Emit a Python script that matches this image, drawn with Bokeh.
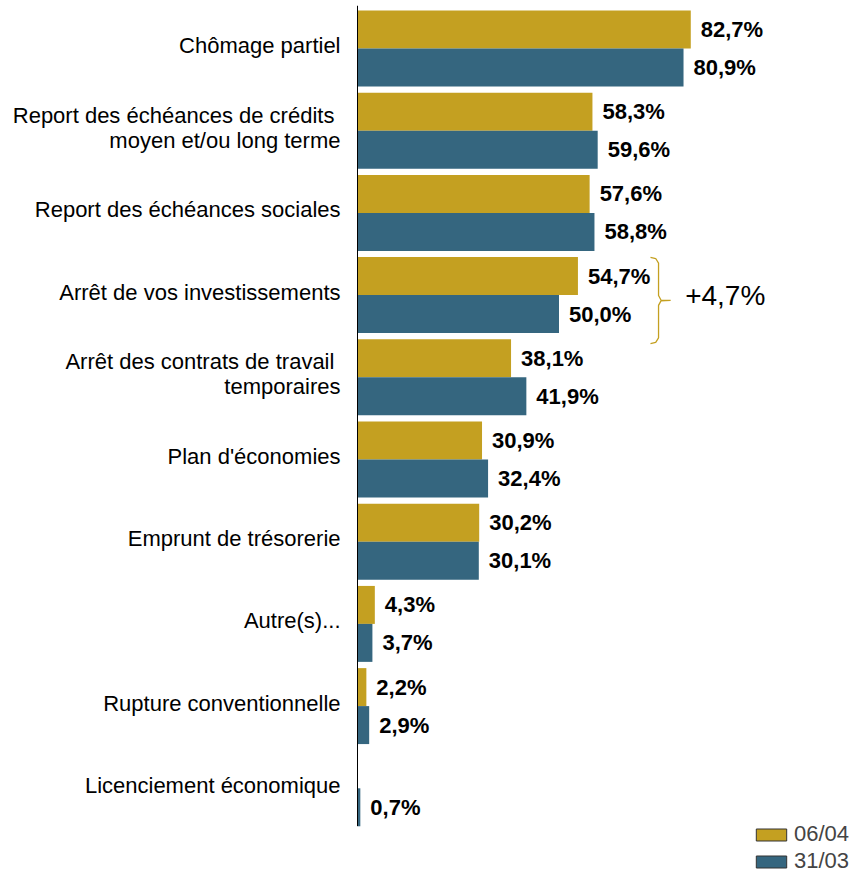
from bokeh.plotting import figure
from bokeh.models import ColumnDataSource, Range1d, Legend, LegendItem
from bokeh.core.properties import value
from bokeh.embed import file_html
from bokeh.resources import INLINE

categories = [
    "Chômage partiel",
    "Report des échéances de crédits \nmoyen et/ou long terme",
    "Report des échéances sociales",
    "Arrêt de vos investissements",
    "Arrêt des contrats de travail \ntemporaires",
    "Plan d'économies",
    "Emprunt de trésorerie",
    "Autre(s)...",
    "Rupture conventionnelle",
    "Licenciement économique",
]
series_names = ["06/04", "31/03"]
values_0604 = [82.7, 58.3, 57.6, 54.7, 38.1, 30.9, 30.2, 4.3, 2.2, 0.0]
values_3103 = [80.9, 59.6, 58.8, 50.0, 41.9, 32.4, 30.1, 3.7, 2.9, 0.7]
highlight_index = 3

GOLD = "#C4A021"
TEAL = "#35667F"
FONT = "Liberation Sans"

n = len(categories)
idx = list(range(n))
BAR_H = 0.462
OFF = 0.231

def fmt(v):
    return f"{v:.1f}".replace(".", ",") + "%"

W, H = 850, 875
p = figure(width=W, height=H, output_backend="svg", toolbar_location=None,
           x_range=Range1d(-357 / 4.03, (W - 357) / 4.03),
           y_range=Range1d((H - 48) / 82.2, -48 / 82.2),
           min_border=0, min_border_left=0, min_border_right=0,
           min_border_top=0, min_border_bottom=0)
p.axis.visible = False
p.grid.visible = False
p.outline_line_color = None
p.background_fill_color = "white"

src_a = ColumnDataSource(dict(y=[i - OFF for i in idx], v=values_0604))
src_b = ColumnDataSource(dict(y=[i + OFF for i in idx], v=values_3103))
p.hbar(y="y", right="v", left=0, height=BAR_H, source=src_a,
       fill_color=GOLD, line_color=None)
p.hbar(y="y", right="v", left=0, height=BAR_H, source=src_b,
       fill_color=TEAL, line_color=None)

# value labels
la = ColumnDataSource(dict(
    x=[v for v in values_0604 if v > 0],
    y=[i - OFF for i, v in zip(idx, values_0604) if v > 0],
    t=[fmt(v) for v in values_0604 if v > 0]))
lb = ColumnDataSource(dict(
    x=[v for v in values_3103 if v > 0],
    y=[i + OFF for i, v in zip(idx, values_3103) if v > 0],
    t=[fmt(v) for v in values_3103 if v > 0]))
for s in (la, lb):
    p.text(x="x", y="y", text="t", source=s, x_offset=10,
           text_font=value(FONT), text_font_size="22px", text_font_style="bold",
           text_color="black", text_align="left", text_baseline="middle")

# category labels
cs = ColumnDataSource(dict(x=[0] * n, y=idx, t=categories))
p.text(x="x", y="y", text="t", source=cs, x_offset=-17, y_offset=-3,
       text_font=value(FONT), text_font_size="22px", text_color="black",
       text_align="right", text_baseline="middle", text_line_height=0.99)

# axis line
p.segment(x0=[0], y0=[-0.52], x1=[0], y1=[n - 0.54], line_color="black", line_width=1)

# brace with difference
h = highlight_index
diff = values_0604[h] - values_3103[h]
bx = values_0604[h] + 20
top, bot, mid = h - 0.46, h + 0.59, h + 0.065
bxs = [bx - 2, bx - 0.7, bx, bx, bx + 0.6, bx + 3, bx + 0.6, bx, bx, bx - 0.7, bx - 2]
bys = [top, top + 0.015, top + 0.07, mid - 0.06, mid - 0.005, mid,
       mid + 0.005, mid + 0.06, bot - 0.07, bot - 0.015, bot]
p.line(x=bxs, y=bys, line_color=GOLD, line_width=1.3)
p.text(x=[bx + 6.6], y=[h], text=["+" + fmt(diff)],
       text_font=value(FONT), text_font_size="28px", text_color="black",
       text_align="left", text_baseline="middle")

# legend proxies (NaN data: not drawn in the plot)
nan = float("nan")
ra = p.rect(x=[nan], y=[nan], width=1, height=1, fill_color=GOLD, line_color="#333333")
rb = p.rect(x=[nan], y=[nan], width=1, height=1, fill_color=TEAL, line_color="#333333")
legend = Legend(items=[LegendItem(label=series_names[0], renderers=[ra]),
                       LegendItem(label=series_names[1], renderers=[rb])],
                location=(752, 1), padding=0, margin=0, spacing=1,
                glyph_width=38, glyph_height=15, label_standoff=4,
                label_text_font=FONT, label_text_font_size="22px",
                border_line_color=None, background_fill_alpha=0)
p.add_layout(legend)

open("out.html", "w").write(file_html(p, INLINE))
